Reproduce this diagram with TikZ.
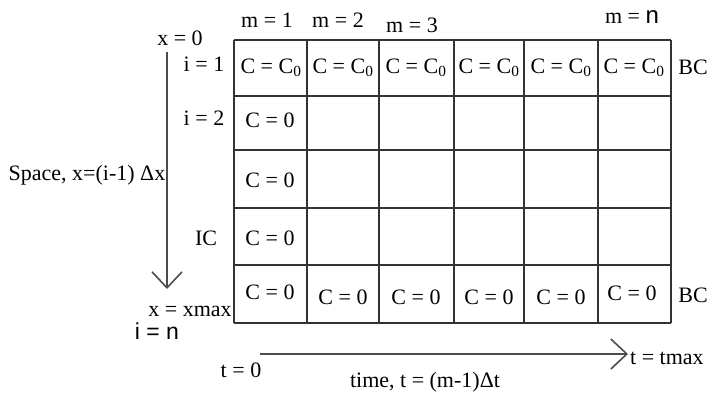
\documentclass[tikz,border=0pt]{standalone}
\usepackage{fontspec}
\setmainfont{Liberation Serif}
\newfontfamily\arialfont{Liberation Sans}
\usetikzlibrary{arrows.meta}

\begin{document}
\begin{tikzpicture}[x=1pt, y=-1pt, font=\fontsize{22}{26}\selectfont]
    % Define styles
    \tikzstyle{gridline} = [draw=black!80, line width=1.8pt]
    \tikzstyle{cell} = [inner sep=0pt, anchor=center]
    \tikzstyle{label} = [inner sep=0pt, anchor=center]
    \tikzstyle{axis} = [draw=black!70, line width=2pt, -{Straight Barb[length=16pt, width=30pt, line width=1.6pt]}]

    \useasboundingbox (0,0) rectangle (708,394);

    % Grid
    \foreach \gx in {234,307,379,454,524,598,671}
        \draw [gridline] (\gx,40) -- (\gx,323);
    \foreach \gy in {40,96,150,208,265,323}
        \draw [gridline] (234,\gy) -- (671,\gy);

    % Top row (boundary)
    \foreach \cx [count=\k] in {271,343,416,489,561,634}
        \node (top\k) [cell] at (\cx,68) {C = C\textsubscript{0}};

    % First column (initial condition)
    \node (ic2) [cell] at (270,120) {C = 0};
    \node (ic3) [cell] at (270,180) {C = 0};
    \node (ic4) [cell] at (270,238) {C = 0};
    \node (bot1) [cell] at (270,292) {C = 0};

    % Bottom row (boundary)
    \node (bot2) [cell] at (343,297) {C = 0};
    \node (bot3) [cell] at (416,297) {C = 0};
    \node (bot4) [cell] at (489,297) {C = 0};
    \node (bot5) [cell] at (561,297) {C = 0};
    \node (bot6) [cell] at (632,293) {C = 0};

    % Column labels
    \node (m1) [label] at (267,20) {m = 1};
    \node (m2) [label] at (338,20) {m = 2};
    \node (m3) [label] at (412,25) {m = 3};
    \node (mn) [label] at (632,17) {m = {\arialfont\fontsize{24}{26}\selectfont n}};

    % Row labels
    \node (x0) [label] at (180,38) {x = 0};
    \node (i1) [label] at (204,64) {i = 1};
    \node (i2) [label] at (204,118) {i = 2};
    \node (ic) [label] at (206,238) {IC};
    \node (space) [label] at (87,175) {Space, x=(i-1) Δx};
    \node (xmax) [label] at (190,311) {x = xmax};
    \node (in) [label, font=\arialfont\fontsize{23}{26}\selectfont] at (157,331) {i = n};
    \node (bctop) [label] at (693,67) {BC};
    \node (bcbot) [label] at (693,295) {BC};

    % Time labels
    \node (t0) [label] at (241,370) {t = 0};
    \node (tmax) [label, anchor=west] at (630,358) {t = tmax};
    \node (time) [label] at (425,382) {time, t = (m-1)Δt};

    % Axes
    \coordinate (sstart) at (167,52);
    \coordinate (send) at (167,289);
    \coordinate (tstart) at (260,354);
    \coordinate (tend) at (628,354);
    \draw [axis] (sstart) -- (send);
    \draw [axis] (tstart) -- (tend);
\end{tikzpicture}
\end{document}
